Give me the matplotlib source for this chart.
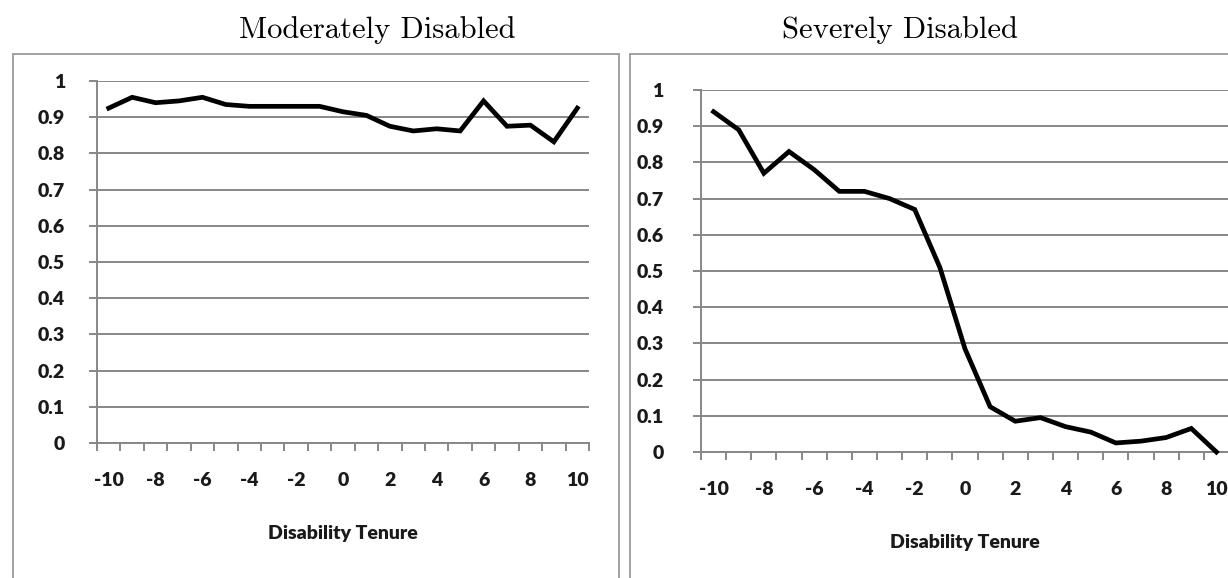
import matplotlib
matplotlib.use("Agg")
import matplotlib.pyplot as plt
from matplotlib.patches import Rectangle
from matplotlib.ticker import FixedLocator, FuncFormatter
from matplotlib.font_manager import FontProperties

plt.rcParams["axes.unicode_minus"] = False

# ---- data ----
tenure = list(range(-10, 11))
moderate = [0.925, 0.955, 0.94, 0.945, 0.955, 0.935, 0.93, 0.93, 0.93, 0.93,
            0.915, 0.905, 0.875, 0.862, 0.868, 0.862, 0.945, 0.875, 0.878, 0.832, 0.925]
severe = [0.94, 0.89, 0.77, 0.83, 0.78, 0.72, 0.72, 0.70, 0.67, 0.51,
          0.285, 0.125, 0.085, 0.095, 0.07, 0.055, 0.025, 0.03, 0.04, 0.065, 0.0]
titles = ["Moderately Disabled", "Severely Disabled"]
xlabel = "Disability Tenure"
yticks = [0, 0.1, 0.2, 0.3, 0.4, 0.5, 0.6, 0.7, 0.8, 0.9, 1]
xticks = [-10, -8, -6, -4, -2, 0, 2, 4, 6, 8, 10]

W, H = 1228, 578
fig = plt.figure(figsize=(W / 100, H / 100), dpi=100)

GRID = "#878787"
TXT = "#1a1a1a"


def px_axes(l, r, top, bottom):
    return [l / W, 1 - bottom / H, (r - l) / W, (bottom - top) / H]


# panel boxes
fig.patches.append(Rectangle((12.7 / W, -0.05), (619 - 12.7) / W, 1.05 - 54 / H,
                             transform=fig.transFigure, fill=False,
                             edgecolor="#9a9a9a", linewidth=1.3))
fig.patches.append(Rectangle((630 / W, -0.05), 0.6, 1.05 - 54 / H,
                             transform=fig.transFigure, fill=False,
                             edgecolor="#9a9a9a", linewidth=1.3))

panels = [
    (moderate, px_axes(97, 589, 81, 443), 377, 24, 26),
    (severe, px_axes(701, 1229, 90, 452), 900, 28, 26),
]

for (vals, rect, tx, ypad, lpad), title in zip(panels, titles):
    ax = fig.add_axes(rect)
    ax.set_xlim(-10.5, 10.5)
    ax.set_ylim(0, 1)
    ax.plot(tenure, vals, color="black", lw=3.4, solid_joinstyle="miter",
            zorder=5, clip_on=False)
    for s in ["top", "right"]:
        ax.spines[s].set_visible(False)
    for s in ["left", "bottom"]:
        ax.spines[s].set_color(GRID)
        ax.spines[s].set_linewidth(1.4)
    ax.yaxis.set_major_locator(FixedLocator(yticks))
    ax.yaxis.set_major_formatter(FuncFormatter(lambda v, p: "%g" % round(v, 1)))
    ax.yaxis.grid(True, color=GRID, lw=1.4)
    ax.tick_params(axis="y", length=6, width=1.4, color=GRID, pad=ypad - 7)
    ax.xaxis.set_major_locator(FixedLocator(xticks))
    ax.xaxis.set_minor_locator(FixedLocator([i + 0.5 for i in range(-11, 11)]))
    ax.tick_params(axis="x", which="major", length=0, pad=21)
    ax.tick_params(axis="x", which="minor", length=6, width=1.4, color=GRID)
    fp = FontProperties(family="Lato", weight="heavy", size=14)
    for lab in ax.get_xticklabels() + ax.get_yticklabels():
        lab.set_fontproperties(fp)
        lab.set_color(TXT)
    ax.set_xlabel(xlabel, fontproperties=FontProperties(family="Lato", weight="heavy", size=14),
                  color=TXT, labelpad=lpad)
    ax.set_axisbelow(True)
    fig.text(tx / W, 1 - 30 / H, title, family="cmr10", fontsize=22,
             ha="center", va="center")

fig.savefig("out.png", dpi=100)
